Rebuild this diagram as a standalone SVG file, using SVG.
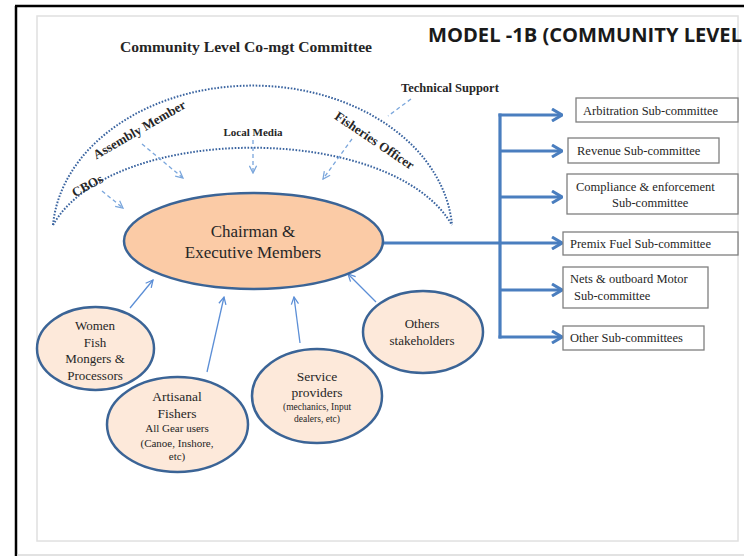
<svg xmlns="http://www.w3.org/2000/svg" width="744" height="556" viewBox="0 0 744 556">
<style>
  .serif{font-family:"Liberation Serif","Times New Roman",serif;fill:#262626}
  .b{font-weight:bold}
  .mid{text-anchor:middle}
  .main{fill:#fbcba6;stroke:#3b6496;stroke-width:2.5}
  .sub{fill:#fde9da;stroke:#3b6496;stroke-width:2.5}
  .box{fill:#fff;stroke:#7f7f7f;stroke-width:1.3}
  .dots{fill:none;stroke:#3a64a0;stroke-width:2;stroke-dasharray:1.6 1.6}
  .thick{fill:none;stroke:#4a7ebf;stroke-width:3.2}
  .thin{fill:none;stroke:#5b8ed6;stroke-width:1.3}
  .dash{fill:none;stroke:#7aa6dc;stroke-width:1.3;stroke-dasharray:4 3}
</style>
<defs>
  <marker id="bigv" viewBox="0 0 12 14" refX="11" refY="7" markerWidth="12" markerHeight="14" markerUnits="userSpaceOnUse" orient="auto">
    <polyline points="1,1 11,7 1,13" fill="none" stroke="#4a7ebf" stroke-width="3"/>
  </marker>
  <marker id="thinv" viewBox="0 0 10 10" refX="9" refY="5" markerWidth="9" markerHeight="9" markerUnits="userSpaceOnUse" orient="auto">
    <polyline points="1,1 9,5 1,9" fill="none" stroke="#5b8ed6" stroke-width="1.4"/>
  </marker>
  <marker id="dashv" viewBox="0 0 10 10" refX="9" refY="5" markerWidth="9" markerHeight="9" markerUnits="userSpaceOnUse" orient="auto">
    <polyline points="1,1 9,5 1,9" fill="none" stroke="#7aa6dc" stroke-width="1.4"/>
  </marker>
</defs>
<rect width="744" height="556" fill="#fff"/>
<g id="frame">
  <line x1="16" y1="6" x2="16" y2="556" stroke="#000" stroke-width="2.5"/>
  <line x1="15" y1="6" x2="744" y2="6" stroke="#000" stroke-width="2.5"/>
  <line x1="17" y1="555" x2="744" y2="555" stroke="#d9d9d9" stroke-width="1.5"/>
  <rect x="37" y="16" width="701" height="525" fill="none" stroke="#e0e0e0" stroke-width="1.5"/>
</g>
<g id="titles">
  <text x="428" y="42" font-family="'Open Sans','Liberation Sans',sans-serif" font-weight="bold" font-size="20" fill="#1a1a1a" textLength="314" lengthAdjust="spacingAndGlyphs">MODEL -1B (COMMUNITY LEVEL</text>
  <text class="serif b" x="120" y="52" font-size="14" textLength="252" lengthAdjust="spacingAndGlyphs">Community Level Co-mgt Committee</text>
</g>
<g id="arcs">
  <path class="dots" d="M53,225 A200,150 0 0 1 452,225"/>
  <path class="dots" d="M53,225 C112,122 392,122 452,225"/>
</g>
<g id="labels">
  <text class="serif b mid" x="87" y="190" font-size="13" transform="rotate(-28 87 185)">CBOs</text>
  <text class="serif b mid" x="139" y="134" font-size="13" transform="rotate(-30 139 129)">Assembly Member</text>
  <text class="serif b mid" x="253" y="136" font-size="11">Local Media</text>
  <text class="serif b mid" x="375" y="145" font-size="13" transform="rotate(34 375 140)">Fisheries Officer</text>
  <text class="serif b" x="401" y="92" font-size="12.5">Technical Support</text>
</g>
<g id="connectors">
  <line class="dash" x1="102" y1="191" x2="123" y2="208" marker-end="url(#dashv)"/>
  <line class="dash" x1="142" y1="144" x2="183" y2="178" marker-end="url(#dashv)"/>
  <line class="dash" x1="253" y1="140" x2="253" y2="173" marker-end="url(#dashv)"/>
  <line class="dash" x1="352" y1="139" x2="323" y2="179" marker-end="url(#dashv)"/>
  <line class="dash" x1="411" y1="99" x2="388" y2="116"/>
  <line class="thin" x1="130" y1="308" x2="153" y2="280" marker-end="url(#thinv)"/>
  <line class="thin" x1="207" y1="372" x2="224" y2="297" marker-end="url(#thinv)"/>
  <line class="thin" x1="300" y1="343" x2="294" y2="297" marker-end="url(#thinv)"/>
  <line class="thin" x1="376" y1="302" x2="348" y2="274" marker-end="url(#thinv)"/>
  <line class="thick" x1="383" y1="243" x2="500" y2="243"/>
  <line class="thick" x1="500" y1="113.5" x2="500" y2="338.5"/>
  <line class="thick" x1="498.5" y1="115" x2="562" y2="115" marker-end="url(#bigv)"/>
  <line class="thick" x1="500" y1="151" x2="562" y2="151" marker-end="url(#bigv)"/>
  <line class="thick" x1="500" y1="197" x2="562" y2="197" marker-end="url(#bigv)"/>
  <line class="thick" x1="500" y1="243" x2="562" y2="243" marker-end="url(#bigv)"/>
  <line class="thick" x1="500" y1="290" x2="562" y2="290" marker-end="url(#bigv)"/>
  <line class="thick" x1="498.5" y1="337" x2="562" y2="337" marker-end="url(#bigv)"/>
</g>
<g id="chairman">
  <ellipse class="main" cx="253.5" cy="241" rx="129.5" ry="48"/>
  <text class="serif mid" x="253" y="237" font-size="17">Chairman &amp;</text>
  <text class="serif mid" x="253" y="258" font-size="17">Executive Members</text>
</g>
<g id="women">
  <ellipse class="sub" cx="95.5" cy="348.5" rx="58.5" ry="41.5"/>
  <text class="serif mid" x="95" y="330" font-size="13">Women</text>
  <text class="serif mid" x="95" y="347" font-size="13">Fish</text>
  <text class="serif mid" x="95" y="363" font-size="13">Mongers &amp;</text>
  <text class="serif mid" x="95" y="380" font-size="13">Processors</text>
</g>
<g id="artisanal">
  <ellipse class="sub" cx="177.5" cy="424.5" rx="70.5" ry="47.5"/>
  <text class="serif mid" x="177" y="401" font-size="13.5">Artisanal</text>
  <text class="serif mid" x="177" y="418" font-size="13.5">Fishers</text>
  <text class="serif mid" x="177" y="432" font-size="11">All Gear users</text>
  <text class="serif mid" x="177" y="447" font-size="11">(Canoe, Inshore,</text>
  <text class="serif mid" x="177" y="460" font-size="11">etc)</text>
</g>
<g id="service">
  <ellipse class="sub" cx="317" cy="396" rx="65" ry="47"/>
  <text class="serif mid" x="317" y="381" font-size="13.5">Service</text>
  <text class="serif mid" x="317" y="397" font-size="13.5">providers</text>
  <text class="serif mid" x="317" y="410" font-size="9.5">(mechanics, Input</text>
  <text class="serif mid" x="317" y="422" font-size="9.5">dealers, etc)</text>
</g>
<g id="others">
  <ellipse class="sub" cx="423" cy="332" rx="60" ry="41"/>
  <text class="serif mid" x="422" y="328" font-size="13">Others</text>
  <text class="serif mid" x="422" y="345" font-size="13">stakeholders</text>
</g>
<g id="arbitration">
  <rect class="box" x="576" y="98" width="162" height="24"/>
  <text class="serif" x="583" y="115" font-size="12.5">Arbitration Sub-committee</text>
</g>
<g id="revenue">
  <rect class="box" x="568" y="138" width="151" height="25"/>
  <text class="serif" x="577" y="155" font-size="12.5">Revenue Sub-committee</text>
</g>
<g id="compliance">
  <rect class="box" x="567" y="174" width="171" height="40"/>
  <text class="serif" x="576" y="191" font-size="12.5">Compliance &amp; enforcement</text>
  <text class="serif" x="612" y="207" font-size="12.5">Sub-committee</text>
</g>
<g id="premix">
  <rect class="box" x="563" y="232" width="175" height="23"/>
  <text class="serif" x="570" y="248" font-size="12.5">Premix Fuel Sub-committee</text>
</g>
<g id="nets">
  <rect class="box" x="563" y="267" width="145" height="41"/>
  <text class="serif" x="570" y="283" font-size="12.5">Nets &amp; outboard Motor</text>
  <text class="serif" x="574" y="300" font-size="12.5">Sub-committee</text>
</g>
<g id="other">
  <rect class="box" x="563" y="326" width="141" height="24"/>
  <text class="serif" x="570" y="342" font-size="12.5">Other Sub-committees</text>
</g>
</svg>
